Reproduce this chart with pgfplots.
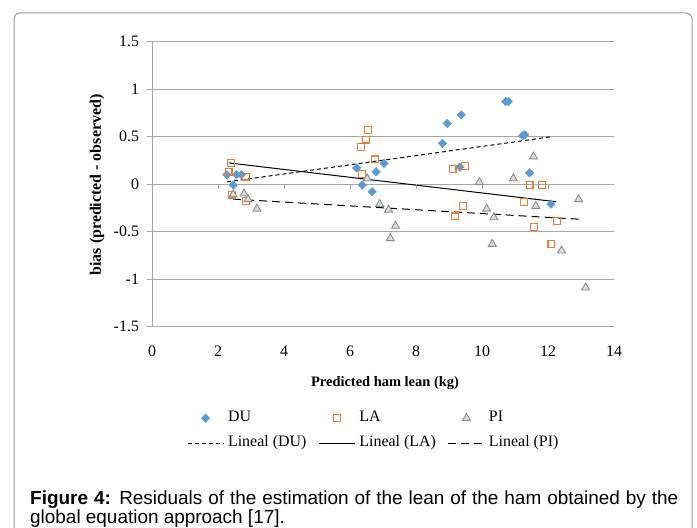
\documentclass[border=0pt]{standalone}
\usepackage{pgfplots}
\pgfplotsset{compat=1.18}
\usepackage{pgfplotstable}
\usepackage{fontspec}
\setmainfont{Liberation Serif}
\newfontfamily\arialfont{Liberation Sans}
\definecolor{dublue}{HTML}{5B9BD5}
\definecolor{laorange}{HTML}{ED7D31}
\definecolor{pigray}{HTML}{8C8C8C}
\definecolor{pifill}{HTML}{DCDCDC}
\definecolor{gridgray}{HTML}{A6A6A6}
\definecolor{framegray}{HTML}{9A9A9A}

\pgfplotstableread{
x y
2.27 0.10
2.56 0.10
2.71 0.10
2.46 -0.01
6.20 0.17
6.37 -0.01
6.67 -0.08
6.79 0.13
7.03 0.22
8.80 0.43
8.95 0.64
9.37 0.73
9.33 0.18
10.72 0.87
10.80 0.87
11.23 0.51
11.30 0.52
11.44 0.12
12.09 -0.21
}\duData

\pgfplotstableread{
x y
2.40 0.22
2.32 0.13
2.84 0.08
2.41 -0.11
2.84 -0.18
6.34 0.39
6.49 0.47
6.55 0.57
6.75 0.26
6.37 0.11
9.11 0.16
9.48 0.19
9.43 -0.23
9.19 -0.34
11.44 -0.01
11.82 -0.01
11.28 -0.19
11.58 -0.45
12.27 -0.39
12.10 -0.63
}\laData

\pgfplotstableread{
x y
2.46 -0.11
2.79 -0.10
2.91 -0.16
3.18 -0.26
6.52 0.06
6.90 -0.21
7.17 -0.27
7.38 -0.44
7.22 -0.57
9.92 0.02
10.14 -0.26
10.36 -0.35
10.31 -0.63
10.95 0.06
11.56 0.29
11.63 -0.23
12.41 -0.70
12.93 -0.16
13.14 -1.09
}\piData

\begin{document}
\begin{tikzpicture}[x=1bp,y=1bp]
\useasboundingbox (0,0) rectangle (697,528);
\draw[framegray, line width=1bp, rounded corners=6bp] (14,-20) -- (14,515) -- (692,515) -- (692,-20);
\begin{axis}[
  at={(152bp,201.3bp)}, anchor=south west,
  scale only axis, width=462bp, height=285bp,
  xmin=0, xmax=14, ymin=-1.5, ymax=1.5,
  xtick={0,2,...,14}, xticklabels={0,2,4,6,8,10,12,14},
  ytick={-1.5,-1,-0.5,0,0.5,1,1.5}, yticklabels={-1.5,-1,-0.5,0,0.5,1,1.5},
  axis y line*=left, axis x line*=bottom,
  x axis line style={draw=none}, y axis line style={gridgray, line width=1bp},
  xtick style={draw=none},
  ytick style={gridgray, line width=1bp},
  tick align=outside, major tick length=5.5bp,
  xmajorgrids=false, ymajorgrids=true, major grid style={gridgray, line width=1bp},
  tick label style={font=\fontsize{16}{19}\selectfont},
  yticklabel style={xshift=-4bp},
  xticklabel style={yshift=-10bp},
  legend columns=3, legend cell align=left,
  legend image code/.code={\draw[mark repeat=2,mark phase=2,#1] plot coordinates {(0bp,0bp) (18bp,0bp) (36bp,0bp)};},
  legend style={at={(axis description cs:0.069,-0.287)}, anchor=north west, draw=none, fill=none,
    font=\fontsize{16}{19}\selectfont, row sep=10bp,
    nodes={inner sep=0pt, text height=11bp, text depth=4bp},
    /tikz/every odd column/.append style={column sep=4bp},
    /tikz/every even column/.append style={column sep=12bp}},
]
\addplot[only marks, mark=square*, mark size=3bp, mark options={rotate=45, fill=dublue, draw=dublue}] table[x=x,y=y] {\duData};
\addlegendentry{DU}
\addplot[only marks, mark=square, mark size=3.4bp, mark options={draw=laorange, fill=white, line width=1.2bp}] table[x=x,y=y] {\laData};
\addlegendentry{LA}
\addplot[only marks, mark=triangle*, mark size=4.6bp, mark options={draw=pigray, fill=pifill, line width=0.9bp}] table[x=x,y=y] {\piData};
\addlegendentry{PI}
\addplot[black, line width=1bp, dash pattern=on 4bp off 3bp] coordinates {(2.27,0.024) (12.12,0.50)};
\addlegendentry{Lineal (DU)}
\addplot[black, line width=1bp] coordinates {(2.33,0.224) (12.25,-0.185)};
\addlegendentry{Lineal (LA)}
\addplot[black, line width=1bp, dash pattern=on 8bp off 5bp] coordinates {(2.46,-0.157) (13.07,-0.371)};
\addlegendentry{Lineal (PI)}
\pgfplotsinvokeforeach{0,2,...,14}{\draw[gridgray, line width=1bp] (axis cs:#1,0) -- (axis cs:#1,-0.053);}
\end{axis}
\node[font=\bfseries\fontsize{14.5}{17}\selectfont] at (385,145) {Predicted ham lean (kg)};
\node[rotate=90, font=\bfseries\fontsize{16}{19}\selectfont] at (97,343) {bias (predicted - observed)};
\node[anchor=base west, inner sep=0pt, font=\arialfont\fontsize{19}{17}\selectfont] at (30,23)
  {\parbox[t]{648bp}{\baselineskip=17bp\textbf{Figure 4:} Residuals of the estimation of the lean of the ham obtained by the\linebreak global equation approach [17].}};
\end{tikzpicture}
\end{document}
